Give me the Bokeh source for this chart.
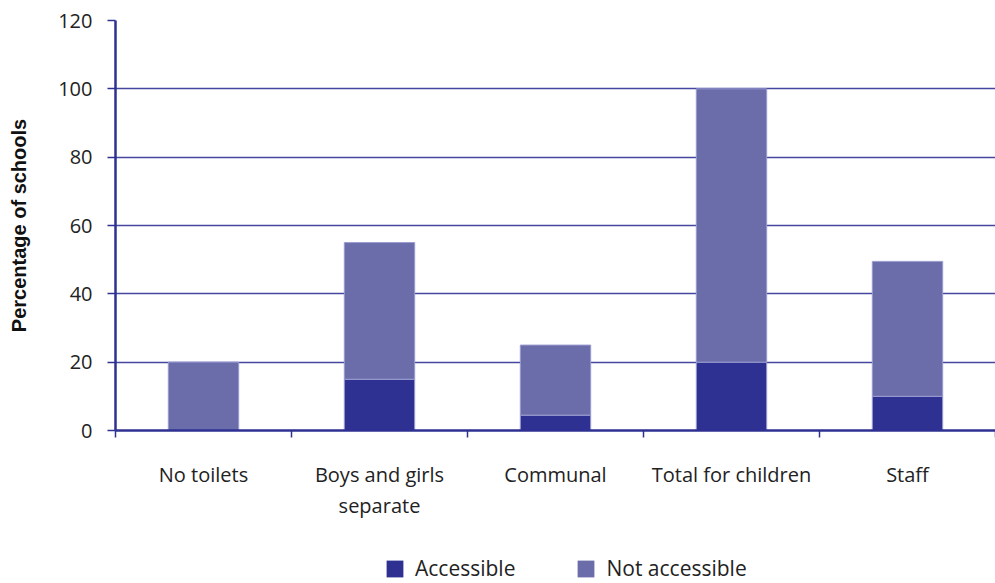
from bokeh.plotting import figure
from bokeh.layouts import column
from bokeh.models import ColumnDataSource, FixedTicker, Range1d, Legend, LegendItem
from bokeh.embed import file_html
from bokeh.resources import INLINE

# Toilet provision in schools, split by accessibility
categories = ["No toilets", "Boys and girls\nseparate", "Communal", "Total for children", "Staff"]
accessible = [0, 15, 4.5, 20, 10]
not_accessible = [20, 40, 20.5, 80, 39.5]
y_ticks = [0, 20, 40, 60, 80, 100, 120]
series_names = ["Accessible", "Not accessible"]

DARK = "#2e3192"
LIGHT = "#6b6daa"
EDGE = "#9a9cd0"
FONT = "Open Sans"

centers = [i + 0.5 for i in range(len(categories))]
bounds = list(range(len(categories) + 1))
stack_top = [a + n for a, n in zip(accessible, not_accessible)]

src = ColumnDataSource(dict(x=centers, acc=accessible, nacc=not_accessible, top=stack_top))

p = figure(width=995, height=530, output_backend="svg", toolbar_location=None,
           x_range=Range1d(0, len(categories)), y_range=Range1d(0, 120),
           min_border_left=115, min_border_right=0, min_border_top=20, min_border_bottom=100)
p.outline_line_color = None
p.xgrid.grid_line_color = None
p.ygrid.grid_line_color = "#4446a0"
p.ygrid.grid_line_width = 1.3

p.vbar(x="x", bottom=0, top="acc", width=0.4, source=src,
       fill_color=DARK, line_color=EDGE, line_width=1)
p.vbar(x="x", bottom="acc", top="top", width=0.4, source=src,
       fill_color=LIGHT, line_color=EDGE, line_width=1)

# x axis: labels at category centres, small ticks at category boundaries
p.xaxis.ticker = FixedTicker(ticks=centers, minor_ticks=bounds)
p.xaxis.major_label_overrides = {c: lab for c, lab in zip(centers, categories)}
p.xaxis.major_tick_out = 0
p.xaxis.major_tick_in = 0
p.xaxis.minor_tick_out = 7
p.xaxis.minor_tick_in = 0
p.xaxis.minor_tick_line_color = DARK
p.xaxis.minor_tick_line_width = 1.5
p.xaxis.axis_line_color = DARK
p.xaxis.axis_line_width = 2.5
p.xaxis.major_label_standoff = 23
p.xaxis.major_label_text_font = FONT
p.xaxis.major_label_text_font_size = "20px"
p.xaxis.major_label_text_color = "#222222"
p.xaxis.major_label_text_line_height = 1.15

# y axis
p.yaxis.ticker = FixedTicker(ticks=y_ticks)
p.yaxis.minor_tick_line_color = None
p.yaxis.major_tick_out = 8
p.yaxis.major_tick_in = 0
p.yaxis.major_tick_line_color = DARK
p.yaxis.major_tick_line_width = 1.3
p.yaxis.axis_line_color = DARK
p.yaxis.axis_line_width = 2.5
p.yaxis.major_label_standoff = 15
p.yaxis.major_label_text_font = FONT
p.yaxis.major_label_text_font_size = "20px"
p.yaxis.major_label_text_color = "#222222"
p.yaxis.axis_label = "Percentage of schools"
p.yaxis.axis_label_text_font = "Liberation Sans"
p.yaxis.axis_label_text_font_style = "bold"
p.yaxis.axis_label_text_font_size = "20px"
p.yaxis.axis_label_text_color = "#111111"
p.yaxis.axis_label_standoff = 25

# legend strip underneath the chart; its bars sit outside the visible y range
leg = figure(width=995, height=53, output_backend="svg", toolbar_location=None,
             x_range=Range1d(0, len(categories)), y_range=Range1d(500, 501),
             x_axis_location=None, y_axis_location=None,
             min_border_left=0, min_border_right=0, min_border_top=0, min_border_bottom=0)
leg.outline_line_color = None
leg.grid.grid_line_color = None
key_acc = leg.vbar(x="x", bottom=0, top="acc", width=0.4, source=src,
                   fill_color=DARK, line_color=None)
key_nacc = leg.vbar(x="x", bottom="acc", top="top", width=0.4, source=src,
                    fill_color=LIGHT, line_color=None)

legend = Legend(items=[LegendItem(label=series_names[0], renderers=[key_acc]),
                       LegendItem(label=series_names[1], renderers=[key_nacc])],
                orientation="horizontal", location=(269, 1),
                padding=0, margin=0, spacing=60, label_standoff=10,
                glyph_width=21, glyph_height=21,
                label_text_font=FONT, label_text_font_size="21px",
                label_text_color="#222222", background_fill_alpha=0,
                border_line_color=None)
leg.add_layout(legend, "center")

layout = column(p, leg, spacing=0)
open("out.html", "w").write(file_html(layout, INLINE))
